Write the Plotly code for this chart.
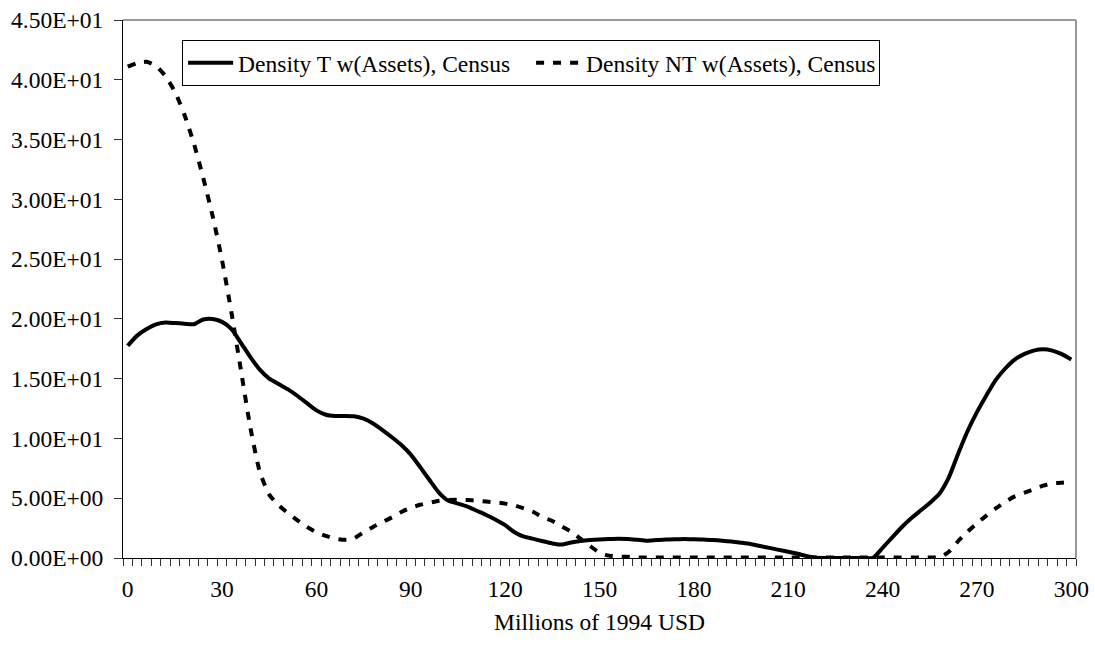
import plotly.graph_objects as go

x_vals = list(range(0, 301, 3))

density_t = [
    17.75, 18.6, 19.15, 19.55, 19.7, 19.65, 19.6, 19.55, 19.95, 20.0,
    19.75, 19.15, 18.0, 16.8, 15.75, 15.0, 14.55, 14.1, 13.55, 12.95,
    12.35, 11.98, 11.88, 11.88, 11.85, 11.65, 11.25, 10.7, 10.1, 9.45,
    8.65, 7.6, 6.5, 5.45, 4.78, 4.55, 4.3, 3.95, 3.6, 3.2,
    2.75, 2.15, 1.78, 1.6, 1.4, 1.22, 1.12, 1.3, 1.42, 1.5,
    1.55, 1.58, 1.6, 1.58, 1.52, 1.45, 1.5, 1.55, 1.57, 1.58,
    1.57, 1.55, 1.5, 1.45, 1.38, 1.28, 1.17, 1.0, 0.85, 0.68,
    0.52, 0.35, 0.15, 0.02, 0.0, 0.0, 0.0, 0.0, 0.0, 0.02,
    0.85, 1.7, 2.55, 3.3, 3.95, 4.6, 5.35, 6.7, 8.7, 10.6,
    12.2, 13.6, 14.9, 15.85, 16.6, 17.05, 17.35, 17.47, 17.35, 17.05,
    16.6,
]

density_nt = [
    41.1, 41.4, 41.5, 41.15, 40.3, 39.0, 37.1, 34.7, 31.8, 28.6,
    24.9, 20.5, 15.7, 10.9, 7.2, 5.3, 4.4, 3.75, 3.15, 2.6,
    2.15, 1.85, 1.62, 1.52, 1.65, 2.15, 2.6, 3.0, 3.4, 3.85,
    4.2, 4.45, 4.62, 4.78, 4.85, 4.87, 4.85, 4.8, 4.72, 4.65,
    4.55, 4.4, 4.15, 3.85, 3.4, 3.1, 2.65, 2.2, 1.6, 1.0,
    0.45, 0.2, 0.12, 0.1, 0.05, 0.05, 0.05, 0.05, 0.05, 0.05,
    0.05, 0.05, 0.05, 0.05, 0.05, 0.05, 0.05, 0.05, 0.05, 0.05,
    0.05, 0.05, 0.05, 0.05, 0.05, 0.05, 0.05, 0.05, 0.05, 0.05,
    0.05, 0.05, 0.05, 0.05, 0.05, 0.05, 0.05, 0.5, 1.4, 2.2,
    2.9, 3.55, 4.15, 4.7, 5.15, 5.45, 5.75, 6.05, 6.25, 6.3,
    6.35,
]

x_tick_vals = [0, 30, 60, 90, 120, 150, 180, 210, 240, 270, 300]
x_tick_text = ["0", "30", "60", "90", "120", "150", "180", "210", "240", "270", "300"]
y_tick_vals = [0, 5, 10, 15, 20, 25, 30, 35, 40, 45]
y_tick_text = ["0.00E+00", "5.00E+00", "1.00E+01", "1.50E+01", "2.00E+01",
               "2.50E+01", "3.00E+01", "3.50E+01", "4.00E+01", "4.50E+01"]

FONT = "Liberation Serif"
FS = 23.5

fig = go.Figure()
fig.add_trace(go.Scatter(
    x=x_vals, y=density_t, mode="lines", name="Density T w(Assets), Census",
    line=dict(color="black", width=4, shape="spline", smoothing=0.6),
))
fig.add_trace(go.Scatter(
    x=x_vals, y=density_nt, mode="lines", name="Density NT w(Assets), Census",
    line=dict(color="black", width=4, dash="8px,9px", shape="spline", smoothing=0.6),
))

fig.update_layout(
    width=1095, height=649,
    margin=dict(l=123, r=19, t=20, b=91, autoexpand=False),
    paper_bgcolor="white", plot_bgcolor="white",
    font=dict(family=FONT, size=FS, color="black"),
    showlegend=True,
    legend=dict(
        orientation="h", x=0.062, y=0.963, xanchor="left", yanchor="top",
        bordercolor="black", borderwidth=1, bgcolor="white",
        font=dict(family=FONT, size=FS, color="black"),
        itemwidth=45, entrywidth=288, entrywidthmode="pixels",
    ),
    xaxis=dict(
        range=[-1.5, 301.5], tickmode="array", tickvals=x_tick_vals, ticktext=x_tick_text,
        ticks="", showgrid=False, zeroline=False, showline=True, linecolor="black", linewidth=1,
        tickfont=dict(family=FONT, size=FS), ticklabelstandoff=10, automargin=False,
        minor=dict(ticks="outside", tickmode="linear", tick0=-1.5, dtick=3, ticklen=7,
                   tickcolor="#333333", showgrid=False),
        title=dict(text="Millions of 1994 USD", font=dict(family=FONT, size=FS), standoff=12),
    ),
    yaxis=dict(
        range=[0, 45], tickmode="array", tickvals=y_tick_vals, ticktext=y_tick_text,
        ticks="outside", ticklen=8, tickcolor="#333333", showgrid=False, zeroline=False,
        showline=True, linecolor="black", linewidth=1, automargin=False,
        tickfont=dict(family=FONT, size=FS), ticklabelstandoff=6,
    ),
    shapes=[
        dict(type="line", xref="paper", yref="paper", x0=0, x1=1, y0=1, y1=1,
             line=dict(color="#999999", width=2)),
        dict(type="line", xref="paper", yref="paper", x0=1, x1=1, y0=0, y1=1,
             line=dict(color="#999999", width=2)),
    ],
)

fig.write_html("out.html", config={"displayModeBar": False},
               post_script="document.body.style.margin='0px';")
